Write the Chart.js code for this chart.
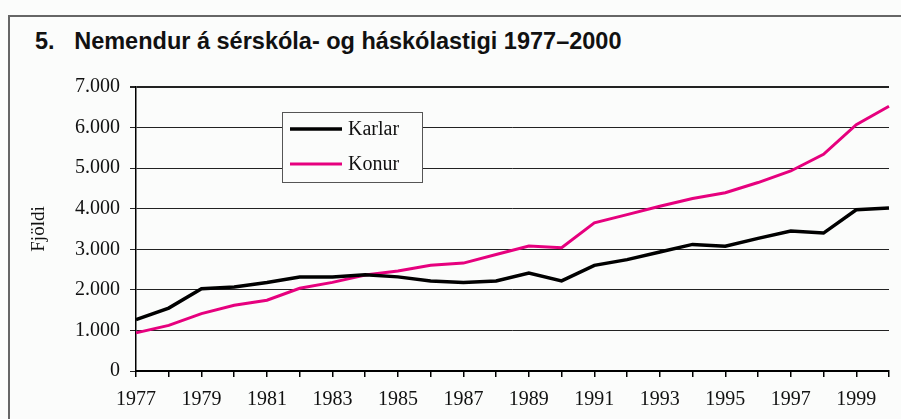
<!DOCTYPE html>
<html lang="is">
<head>
    <meta charset="UTF-8">
    <title>Nemendur á sérskóla- og háskólastigi 1977–2000</title>
    <script src="https://cdn.jsdelivr.net/npm/chart.js"></script>
    <style>
body {
    margin: 0;
    background: #fbfcfb;
    width: 901px;
    height: 419px;
    overflow: hidden;
    position: relative;
}

.frame {
    position: absolute;
    left: 8px;
    top: 15px;
    width: 900px;
    height: 420px;
    border-left: 2px solid #666;
    border-top: 2px solid #666;
}

.title {
    position: absolute;
    left: 35px;
    top: 28px;
    font-family: 'Liberation Sans', Arial, sans-serif;
    font-weight: bold;
    font-size: 23.5px;
    color: #111;
    white-space: pre;
}

#wrap {
    position: absolute;
    left: 0;
    top: 0;
    width: 901px;
    height: 419px;
}
    </style>
</head>
<body>
    <div class="frame"></div>
    <div class="title">5.   Nemendur á sérskóla- og háskólastigi 1977–2000</div>
    <div id="wrap"><canvas id="nemChart"></canvas></div>

<script>
    // gögn lesin af myndinni
    const years = ['1977', '1978', '1979', '1980', '1981', '1982', '1983', '1984',
        '1985', '1986', '1987', '1988', '1989', '1990', '1991', '1992',
        '1993', '1994', '1995', '1996', '1997', '1998', '1999', '2000'];
    const karlar = [1265, 1550, 2030, 2070, 2180, 2315, 2315, 2370, 2320, 2220, 2180, 2220,
        2415, 2220, 2605, 2745, 2935, 3120, 3075, 3270, 3450, 3400, 3975, 4020];
    const konur = [940, 1125, 1415, 1620, 1745, 2040, 2185, 2365, 2465, 2605, 2660, 2870,
        3080, 3040, 3650, 3855, 4060, 4250, 4395, 4645, 4930, 5340, 6070, 6525];
    const yTickLabels = ['0', '1.000', '2.000', '3.000', '4.000', '5.000', '6.000', '7.000'];

    const serif = "'Liberation Serif', 'Times New Roman', serif";

    // legend kassi teiknaður inni í myndinni
    const boxLegend = {
        id: 'boxLegend',
        afterDatasetsDraw(chart) {
            const ctx = chart.ctx;
            ctx.save();
            ctx.fillStyle = '#fbfcfb';
            ctx.fillRect(282, 112, 141, 71);
            ctx.strokeStyle = '#555';
            ctx.lineWidth = 1;
            ctx.strokeRect(282.5, 112.5, 140, 70);
            chart.data.datasets.forEach(function (ds, i) {
                const y = 129 + i * 35;
                ctx.strokeStyle = ds.borderColor;
                ctx.lineWidth = ds.borderWidth;
                ctx.beginPath();
                ctx.moveTo(290, y);
                ctx.lineTo(342, y);
                ctx.stroke();
                ctx.fillStyle = '#111';
                ctx.font = '20px ' + serif;
                ctx.textBaseline = 'middle';
                ctx.fillText(ds.label, 348, y + 1);
            });
            ctx.restore();
        }
    };

    const ctx1 = document.getElementById('nemChart').getContext('2d');
    new Chart(ctx1, {
        type: 'line',
        data: {
            labels: years,
            datasets: [{
                label: 'Karlar',
                data: karlar,
                borderColor: '#000000',
                borderWidth: 3.5,
                pointRadius: 0,
                tension: 0,
                fill: false
            }, {
                label: 'Konur',
                data: konur,
                borderColor: '#e6007e',
                borderWidth: 3,
                pointRadius: 0,
                tension: 0,
                fill: false
            }]
        },
        options: {
            responsive: true,
            maintainAspectRatio: false,
            animation: false,
            layout: { padding: { top: 87, left: 18, right: 12, bottom: 0 } },
            plugins: {
                legend: { display: false },
                tooltip: { enabled: false }
            },
            scales: {
                x: {
                    offset: false,
                    afterFit: function (s) { s.height = 48; },
                    grid: { drawOnChartArea: false, drawTicks: true, tickLength: 6, color: '#000', lineWidth: 1.5 },
                    border: { color: '#000', width: 2 },
                    ticks: {
                        autoSkip: false,
                        maxRotation: 0,
                        padding: 11,
                        color: '#111',
                        font: { family: serif, size: 20 },
                        callback: function (v, i) { return i % 2 === 0 ? years[i] : ''; }
                    }
                },
                y: {
                    min: 0,
                    max: 7000,
                    afterFit: function (s) { s.width = 118; },
                    grid: {
                        color: '#222',
                        lineWidth: function (c) { return c.tick && c.tick.value === 7000 ? 2 : 1; },
                        tickLength: 6
                    },
                    border: { color: '#000', width: 1.5 },
                    ticks: {
                        stepSize: 1000,
                        padding: 10,
                        color: '#111',
                        font: { family: serif, size: 20 },
                        callback: function (v, i) { return yTickLabels[i]; }
                    },
                    title: {
                        display: true,
                        text: 'Fjöldi',
                        color: '#111',
                        padding: { top: 10, bottom: 0 },
                        font: { family: serif, size: 19 }
                    }
                }
            }
        },
        plugins: [boxLegend]
    });
</script>
</body>
</html>
